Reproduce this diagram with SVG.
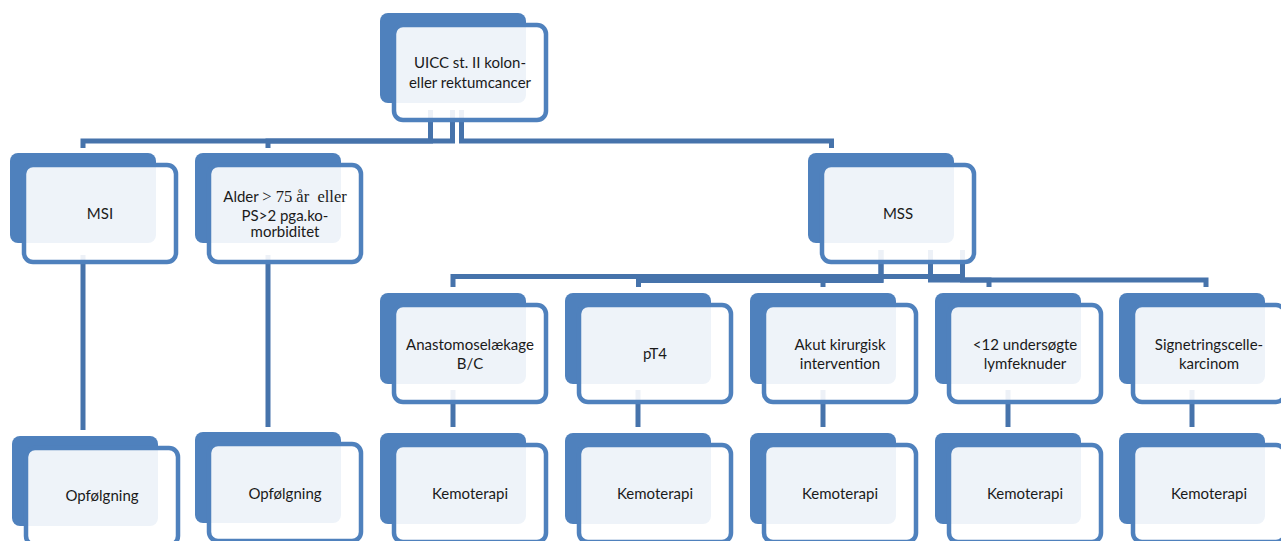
<svg xmlns="http://www.w3.org/2000/svg" width="1281" height="541" viewBox="0 0 1281 541">
<style>
.back{fill:#4F81BD;}
.front{fill:#ffffff;fill-opacity:0.9;stroke:#4F81BD;stroke-width:4.5;}
.conn{fill:none;stroke:#4673AB;stroke-width:5;}
.t{font-family:Lato,"Liberation Sans",sans-serif;font-size:15px;fill:#1a1a1a;text-anchor:middle;}
.s{font-family:"Liberation Serif",serif;font-size:16.5px;}
</style>
<rect width="1281" height="541" fill="#ffffff"/>
<g id="connectors">
<path class="conn" d="M430.5,110 V141 H83 V148"/>
<path class="conn" d="M452.5,110 V141 H268 V148"/>
<path class="conn" d="M461.5,110 V141 H831.5 V148"/>
<path class="conn" d="M962.5,250 V276.5 H453 V287"/>
<path class="conn" d="M881,250 V280.5 H638.5 V287"/>
<path class="conn" d="M881,250 V280 H823 V287"/>
<path class="conn" d="M930.5,250 V280 H989 V287"/>
<path class="conn" d="M962.5,250 V280 H1206 V287"/>
<path class="conn" d="M83,255 V430"/>
<path class="conn" d="M268,255 V427"/>
<path class="conn" d="M453,390 V427"/>
<path class="conn" d="M638,390 V427"/>
<path class="conn" d="M823,390 V427"/>
<path class="conn" d="M1008,390 V427"/>
<path class="conn" d="M1192,390 V427"/>
</g>
<g id="n-root">
<rect class="back" x="380" y="13" width="146" height="90" rx="8"/>
<rect class="front" x="394" y="25" width="152" height="95" rx="9"/>
<text class="t" x="470" y="68">UICC st. II kolon-</text>
<text class="t" x="470" y="88">eller rektumcancer</text>
</g>
<g id="n-msi">
<rect class="back" x="10" y="153" width="146" height="90" rx="8"/>
<rect class="front" x="24" y="165" width="152" height="97" rx="9"/>
<text class="t" x="100" y="219">MSI</text>
</g>
<g id="n-alder">
<rect class="back" x="195" y="153" width="146" height="90" rx="8"/>
<rect class="front" x="209" y="165" width="152" height="97" rx="9"/>
<text class="t" x="285" y="202">Alder <tspan class="s">&gt; 75 år &#160;eller</tspan></text>
<text class="t" x="285" y="221">PS&gt;2 pga.ko-</text>
<text class="t" x="285" y="237">morbiditet</text>
</g>
<g id="n-mss">
<rect class="back" x="808" y="153" width="146" height="90" rx="8"/>
<rect class="front" x="822" y="165" width="152" height="97" rx="9"/>
<text class="t" x="898" y="219">MSS</text>
</g>
<g id="n-anast">
<rect class="back" x="380" y="293" width="146" height="91" rx="8"/>
<rect class="front" x="394" y="305" width="152" height="97" rx="9"/>
<text class="t" x="470" y="350">Anastomoselækage</text>
<text class="t" x="470" y="369">B/C</text>
</g>
<g id="n-pt4">
<rect class="back" x="565" y="293" width="146" height="91" rx="8"/>
<rect class="front" x="579" y="305" width="152" height="97" rx="9"/>
<text class="t" x="655" y="359">pT4</text>
</g>
<g id="n-akut">
<rect class="back" x="750" y="293" width="146" height="91" rx="8"/>
<rect class="front" x="764" y="305" width="152" height="97" rx="9"/>
<text class="t" x="840" y="350">Akut kirurgisk</text>
<text class="t" x="840" y="369">intervention</text>
</g>
<g id="n-lymf">
<rect class="back" x="935" y="293" width="146" height="91" rx="8"/>
<rect class="front" x="949" y="305" width="152" height="97" rx="9"/>
<text class="t" x="1025" y="350">&lt;12 undersøgte</text>
<text class="t" x="1025" y="369">lymfeknuder</text>
</g>
<g id="n-signet">
<rect class="back" x="1119" y="293" width="146" height="91" rx="8"/>
<rect class="front" x="1133" y="305" width="152" height="97" rx="9"/>
<text class="t" x="1209" y="350">Signetringscelle-</text>
<text class="t" x="1209" y="369">karcinom</text>
</g>
<g id="n-opf1">
<rect class="back" x="12" y="436" width="146" height="90" rx="8"/>
<rect class="front" x="26" y="448" width="152" height="97" rx="9"/>
<text class="t" x="102" y="501">Opfølgning</text>
</g>
<g id="n-opf2">
<rect class="back" x="195" y="432" width="146" height="91" rx="8"/>
<rect class="front" x="209" y="444" width="152" height="97" rx="9"/>
<text class="t" x="285" y="499">Opfølgning</text>
</g>
<g id="n-kemo1">
<rect class="back" x="380" y="433" width="146" height="91" rx="8"/>
<rect class="front" x="394" y="445" width="152" height="97" rx="9"/>
<text class="t" x="470" y="499">Kemoterapi</text>
</g>
<g id="n-kemo2">
<rect class="back" x="565" y="433" width="146" height="91" rx="8"/>
<rect class="front" x="579" y="445" width="152" height="97" rx="9"/>
<text class="t" x="655" y="499">Kemoterapi</text>
</g>
<g id="n-kemo3">
<rect class="back" x="750" y="433" width="146" height="91" rx="8"/>
<rect class="front" x="764" y="445" width="152" height="97" rx="9"/>
<text class="t" x="840" y="499">Kemoterapi</text>
</g>
<g id="n-kemo4">
<rect class="back" x="935" y="433" width="146" height="91" rx="8"/>
<rect class="front" x="949" y="445" width="152" height="97" rx="9"/>
<text class="t" x="1025" y="499">Kemoterapi</text>
</g>
<g id="n-kemo5">
<rect class="back" x="1119" y="433" width="146" height="91" rx="8"/>
<rect class="front" x="1133" y="445" width="152" height="97" rx="9"/>
<text class="t" x="1209" y="499">Kemoterapi</text>
</g>
</svg>
